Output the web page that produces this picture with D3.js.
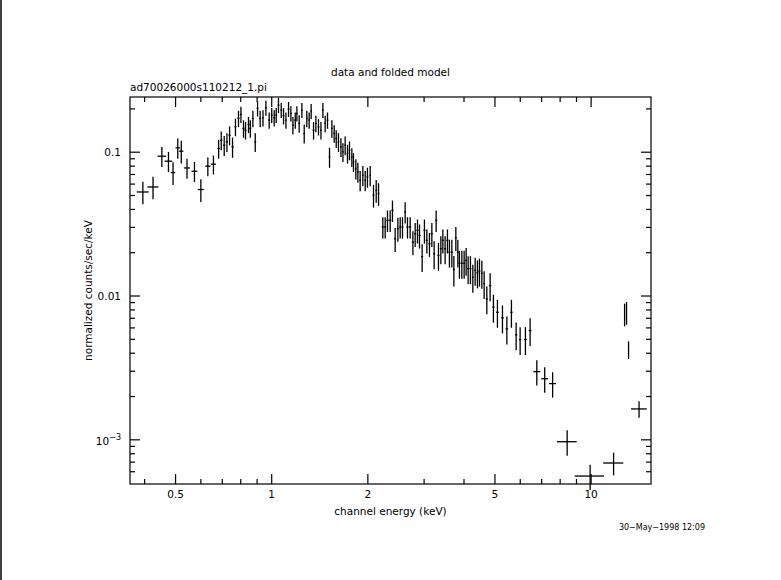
<!DOCTYPE html>
<html>
<head>
<meta charset="utf-8">
<script src="https://cdn.jsdelivr.net/npm/d3@7"></script>
<style>
  body { margin: 0; background: #fff; }
  text { font-family: "DejaVu Sans", sans-serif; fill: #000; }
</style>
</head>
<body>
<svg id="chart" width="781" height="580"></svg>
<script>
// spectrum: channel energy (keV) and normalized counts/sec/keV
var energy = [0.395,0.425,0.453,0.475,0.491,0.508,0.521,0.543,0.573,0.600,
  0.631,0.657,0.682,0.695,0.710,0.724,0.738,0.754,0.770,0.787,
  0.801,0.816,0.828,0.846,0.857,0.873,0.888,0.903,0.920,0.939,
  0.959,0.982,1.000,1.018,1.033,1.050,1.071,1.089,1.108,1.129,
  1.148,1.165,1.185,1.199,1.219,1.243,1.264,1.288,1.310,1.329,
  1.352,1.375,1.401,1.426,1.446,1.470,1.495,1.517,1.543,1.569,
  1.592,1.618,1.647,1.671,1.698,1.727,1.752,1.782,1.803,1.834,
  1.861,1.892,1.929,1.962,1.994,2.034,2.083,2.124,2.160,
  2.228,2.266,2.304,2.349,2.388,2.435,2.483,2.525,2.567,2.617,
  2.661,2.713,2.767,2.813,2.860,2.902,2.958,3.007,3.060,3.118,
  3.172,3.225,3.272,3.327,3.385,3.434,3.491,3.550,3.601,3.664,
  3.718,3.771,3.826,3.870,3.938,4.004,4.062,4.121,4.190,4.263,
  4.335,4.407,4.471,4.549,4.625,4.715,4.829,4.945,5.090,5.278,
  5.448,5.630,5.825,5.995,6.228,6.442,6.761,7.157,7.577,8.414,
  9.93,11.76,12.73,12.91,13.10,14.13];
var counts = [0.0529,0.0573,0.0938,0.0866,0.0722,0.1072,0.1016,0.0777,0.0737,0.0550,
  0.0799,0.0825,0.1061,0.1212,0.1119,0.1180,0.1314,0.1089,0.1501,0.1717,
  0.1831,0.1463,0.1423,0.1560,0.1463,0.1717,0.1180,0.2016,0.1717,0.1734,
  0.2036,0.1671,0.1811,0.1734,0.1811,0.2126,0.1962,0.1791,0.1671,0.1994,
  0.1860,0.1542,0.1671,0.1860,0.1585,0.1962,0.1350,0.1717,0.1671,0.1931,
  0.1423,0.1585,0.1501,0.1423,0.1962,0.1585,0.1671,0.0927,0.1463,0.1350,
  0.1246,0.1180,0.1089,0.1005,0.1119,0.0979,0.1033,0.0927,0.0856,0.0770,
  0.0729,0.0638,0.0691,0.0638,0.0673,0.0691,0.0502,0.0543,0.0516,
  0.0302,0.0302,0.0336,0.0336,0.0394,0.0250,0.0294,0.0302,0.0302,0.0384,
  0.0302,0.0302,0.0237,0.0271,0.0286,0.0264,0.0188,0.0286,0.0244,0.0231,
  0.0271,0.0197,0.0336,0.0192,0.0213,0.0244,0.0213,0.0244,0.0202,0.0202,
  0.0153,0.0254,0.0202,0.0169,0.0169,0.0169,0.0177,0.0155,0.0155,0.0135,
  0.0151,0.0145,0.0149,0.0144,0.0122,0.00956,0.0118,0.00836,0.00771,0.00705,
  0.00591,0.00771,0.00537,0.00498,0.00498,0.00575,0.00298,0.00266,0.00246,0.00097,
  0.00056,0.00069,0.00750,0.00770,0.00424,0.00164];
// half bin widths (keV)
var energyErr = [0.017,0.017,0.014,0.013,0.008,0.008,0.008,0.012,0.012,0.013,
  0.012,0.012,0.006,0.006,0.006,0.006,0.006,0.006,0.006,0.006,
  0.006,0.006,0.006,0.006,0.006,0.006,0.006,0.006,0.006,0.006,
  0.007,0.007,0.007,0.007,0.007,0.007,0.007,0.007,0.007,0.007,
  0.008,0.008,0.008,0.008,0.008,0.008,0.008,0.008,0.008,0.008,
  0.009,0.009,0.009,0.009,0.009,0.009,0.009,0.009,0.009,0.009,
  0.010,0.010,0.010,0.010,0.010,0.010,0.010,0.010,0.010,0.010,
  0.012,0.012,0.012,0.012,0.012,0.012,0.014,0.014,0.014,
  0.018,0.018,0.018,0.018,0.018,0.018,0.018,0.018,0.018,0.018,
  0.022,0.022,0.022,0.022,0.022,0.022,0.022,0.022,0.022,0.022,
  0.025,0.025,0.025,0.025,0.025,0.025,0.025,0.025,0.025,0.025,
  0.028,0.028,0.028,0.028,0.028,0.028,0.028,0.028,0.028,0.028,
  0.03,0.03,0.03,0.03,0.03,0.035,0.04,0.04,0.05,0.05,
  0.05,0.05,0.05,0.05,0.06,0.06,0.17,0.18,0.19,0.6,
  1.05,0.85,0.04,0.04,0.04,0.8];
// relative vertical error
var countRelErr = [0.18,0.18,0.16,0.16,0.18,0.16,0.18,0.16,0.16,0.18,
  0.15,0.15,0.15,0.15,0.16,0.15,0.15,0.16,0.14,0.13,
  0.13,0.14,0.14,0.13,0.14,0.13,0.15,0.12,0.13,0.13,
  0.12,0.13,0.12,0.13,0.12,0.12,0.12,0.13,0.13,0.12,
  0.12,0.14,0.13,0.12,0.14,0.12,0.15,0.13,0.13,0.12,
  0.14,0.13,0.13,0.14,0.12,0.13,0.13,0.16,0.14,0.14,
  0.14,0.15,0.15,0.15,0.15,0.15,0.15,0.15,0.15,0.16,
  0.16,0.16,0.16,0.16,0.16,0.16,0.18,0.18,0.18,
  0.17,0.17,0.17,0.17,0.17,0.19,0.19,0.17,0.17,0.17,
  0.17,0.17,0.19,0.19,0.19,0.19,0.22,0.19,0.19,0.19,
  0.19,0.22,0.17,0.22,0.22,0.19,0.22,0.19,0.22,0.22,
  0.24,0.19,0.22,0.22,0.22,0.22,0.22,0.22,0.22,0.22,
  0.22,0.22,0.22,0.22,0.22,0.22,0.22,0.22,0.22,0.22,
  0.22,0.22,0.22,0.22,0.22,0.22,0.2,0.2,0.2,0.2,
  0.2,0.18,0.18,0.18,0.14,0.13];

var xMajor = [0.5, 1, 2, 5, 10];
var xMinor = [0.4,0.6,0.7,0.8,0.9,3,4,6,7,8,9];
var yMajor = [0.1, 0.01, 0.001];
var yMinor = [0.0006,0.0007,0.0008,0.0009,0.002,0.003,0.004,0.005,0.006,0.007,0.008,0.009,
  0.02,0.03,0.04,0.05,0.06,0.07,0.08,0.09,0.2];

var svg = d3.select("#chart");
var fLeft = 130, fRight = 651, fTop = 97, fBottom = 484;

var x = d3.scaleLog().domain([0.36, 15.4]).range([fLeft, fRight]);
var y = d3.scaleLog().domain([0.000493, 0.242]).range([fBottom, fTop]);

// left border line of the picture
svg.append("line").attr("x1", 1).attr("x2", 1).attr("y1", 0).attr("y2", 580)
  .attr("stroke", "#000").attr("stroke-width", 1.5);

var g = svg.append("g").attr("stroke", "#000").attr("stroke-width", 1.2).attr("fill", "none");

g.append("rect").attr("x", fLeft).attr("y", fTop).attr("width", fRight - fLeft).attr("height", fBottom - fTop);

function xTick(v, len) {
  g.append("line").attr("x1", x(v)).attr("x2", x(v)).attr("y1", fBottom).attr("y2", fBottom - len);
  g.append("line").attr("x1", x(v)).attr("x2", x(v)).attr("y1", fTop).attr("y2", fTop + len);
}
function yTick(v, len) {
  g.append("line").attr("y1", y(v)).attr("y2", y(v)).attr("x1", fLeft).attr("x2", fLeft + len);
  g.append("line").attr("y1", y(v)).attr("y2", y(v)).attr("x1", fRight).attr("x2", fRight - len);
}
xMajor.forEach(function(v){ xTick(v, 10); });
xMinor.forEach(function(v){ xTick(v, 5); });
yMajor.forEach(function(v){ yTick(v, 10); });
yMinor.forEach(function(v){ yTick(v, 5); });

// data crosses
var pts = energy.map(function(e, i){
  return {e: e, v: counts[i], ex: energyErr[i], ey: countRelErr[i]};
});
var marks = g.append("g").attr("stroke-width", 1.3);
pts.forEach(function(d){
  marks.append("line").attr("x1", x(d.e - d.ex)).attr("x2", x(d.e + d.ex))
    .attr("y1", y(d.v)).attr("y2", y(d.v));
  marks.append("line").attr("x1", x(d.e)).attr("x2", x(d.e))
    .attr("y1", y(d.v * (1 - d.ey))).attr("y2", y(d.v * (1 + d.ey)));
});

// labels
var fs = 10.5;
xMajor.forEach(function(v){
  svg.append("text").attr("x", x(v)).attr("y", 498).attr("text-anchor", "middle")
    .attr("font-size", fs).text(v);
});
svg.append("text").attr("x", 121).attr("y", y(0.1) + 4).attr("text-anchor", "end").attr("font-size", fs).text("0.1");
svg.append("text").attr("x", 121).attr("y", y(0.01) + 4).attr("text-anchor", "end").attr("font-size", fs).text("0.01");
var t3 = svg.append("text").attr("x", 121).attr("y", y(0.001) + 5).attr("text-anchor", "end").attr("font-size", fs);
t3.append("tspan").text("10");
t3.append("tspan").attr("dy", -5).attr("font-size", 8).text("\u22123");

svg.append("text").attr("x", (fLeft + fRight) / 2).attr("y", 515).attr("text-anchor", "middle")
  .attr("font-size", fs).text("channel energy (keV)");
svg.append("text").attr("transform", "translate(92," + ((fTop + fBottom) / 2) + ") rotate(-90)")
  .attr("text-anchor", "middle").attr("font-size", fs).text("normalized counts/sec/keV");
svg.append("text").attr("x", (fLeft + fRight) / 2).attr("y", 76).attr("text-anchor", "middle")
  .attr("font-size", fs).text("data and folded model");
svg.append("text").attr("x", fLeft).attr("y", 91).attr("font-size", fs).text("ad70026000s110212_1.pi");
svg.append("text").attr("x", 705).attr("y", 530).attr("text-anchor", "end")
  .attr("font-size", 8).text("30\u2212May\u22121998 12:09");
</script>
</body>
</html>
